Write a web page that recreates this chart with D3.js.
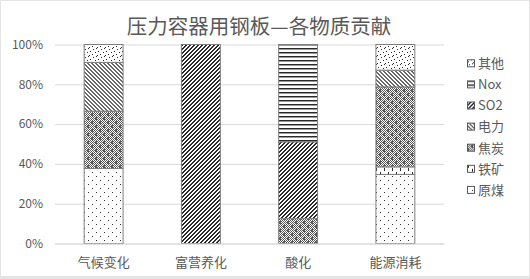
<!DOCTYPE html>
<html>
<head>
<meta charset="utf-8">
<script src="https://cdn.jsdelivr.net/npm/d3@7"></script>
<style>
  html, body { margin: 0; padding: 0; background: #e4e4e4; }
  svg { display: block; }
  text { font-family: "Noto Sans CJK SC", "Noto Sans", sans-serif; fill: #595959; }
</style>
</head>
<body>
<svg id="chart" width="530" height="279"></svg>
<script>
// Impact categories along the x axis
const categories = ["气候变化", "富营养化", "酸化", "能源消耗"];
// Stack order, bottom to top
const seriesNames = ["原煤", "铁矿", "焦炭", "电力", "SO2", "Nox", "其他"];
// Share of each contributor per category (%)
const coal    = [37.7, 0,   0,    34.7];
const ironOre = [0,    0,   0,    3.8];
const coke    = [28.8, 0,   12.5, 40.2];
const power   = [24.5, 0,   0,    8.4];
const so2     = [0,    100, 38.6, 0];
const nox     = [0,    0,   48.9, 0];
const other   = [9.0,  0,   0,    12.9];
const yTicks  = [0, 20, 40, 60, 80, 100];
const titleText = "压力容器用钢板—各物质贡献";

const seriesValues = [coal, ironOre, coke, power, so2, nox, other];
const rows = categories.map((c, i) => {
  const r = { category: c };
  seriesNames.forEach((s, k) => { r[s] = seriesValues[k][i]; });
  return r;
});

const svg = d3.select("#chart");

// frame
svg.append("rect").attr("x", 0).attr("y", 0).attr("width", 530).attr("height", 279).attr("fill", "#e4e4e4");
svg.append("rect").attr("x", 1).attr("y", 1).attr("width", 528).attr("height", 275).attr("fill", "#ffffff");

// 1px bitmap fills in the style of spreadsheet pattern fills
const defs = svg.append("defs");
const palette = { "1": "#2a2a2a", "2": "#9a9a9a", "3": "#6a6a6a", "4": "#585858" };
function bitmapPattern(id, bits) {
  const h = bits.length, w = bits[0].length;
  const p = defs.append("pattern")
    .attr("id", id).attr("patternUnits", "userSpaceOnUse")
    .attr("width", w).attr("height", h);
  p.append("rect").attr("width", w).attr("height", h).attr("fill", "#ffffff");
  bits.forEach((row, y) => {
    row.split("").forEach((ch, x) => {
      if (ch !== "0") {
        p.append("rect").attr("x", x).attr("y", y).attr("width", 1).attr("height", 1)
          .attr("fill", palette[ch]);
      }
    });
  });
  return "url(#" + id + ")";
}

const fills = {
  "原煤": bitmapPattern("p-coal", [
    "10000000",
    "00000000",
    "00000000",
    "00000000",
    "00001000",
    "00000000",
    "00000000",
    "00000000"]),
  "铁矿": bitmapPattern("p-ore", [
    "10000000",
    "10000000",
    "10000000",
    "00000000",
    "00001000",
    "00001000",
    "00001000",
    "00000000"]),
  "焦炭": bitmapPattern("p-coke", [
    "40404040",
    "04044404",
    "40444040",
    "04044404",
    "40404040",
    "44040404",
    "40404044",
    "44040404"]),
  "电力": bitmapPattern("p-power", [
    "3300",
    "0330",
    "0033",
    "3003"]),
  "SO2": bitmapPattern("p-so2", [
    "0011",
    "0110",
    "1100",
    "1001"]),
  "Nox": bitmapPattern("p-nox", [
    "1",
    "2",
    "0",
    "0"]),
  "其他": bitmapPattern("p-other", [
    "10000000",
    "00000100",
    "00000000",
    "00100000",
    "00000001",
    "00000000",
    "00001000",
    "01000000"])
};

const x = d3.scaleBand().domain(categories).range([55, 444]).paddingInner(0.6).paddingOuter(0.3);
const y = d3.scaleLinear().domain([0, 100]).range([243.5, 44.5]);

// gridlines + y labels
const yAxis = svg.append("g").attr("transform", "translate(55,0)")
  .call(d3.axisLeft(y).tickValues(yTicks).tickFormat(d => d + "%").tickSize(-389).tickPadding(12));
yAxis.select(".domain").remove();
yAxis.selectAll("line").attr("stroke", "#d9d9d9").attr("stroke-width", 1);
yAxis.selectAll("text").attr("font-size", 12).attr("fill", "#595959")
  .style("font-family", '"Noto Sans CJK SC", sans-serif');

// stacked bars
const stacked = d3.stack().keys(seriesNames)(rows);
const layers = svg.append("g").selectAll("g").data(stacked).join("g")
  .attr("fill", d => fills[d.key]);
layers.selectAll("rect").data(d => d.filter(s => s[1] - s[0] > 0)).join("rect")
  .attr("x", d => x(d.data.category))
  .attr("width", x.bandwidth())
  .attr("y", d => y(d[1]))
  .attr("height", d => y(d[0]) - y(d[1]))
  .attr("stroke", "#7f7f7f")
  .attr("stroke-width", 1);

// category labels
const xAxis = svg.append("g").attr("transform", "translate(0,243.5)")
  .call(d3.axisBottom(x).tickSize(0).tickPadding(14));
xAxis.select(".domain").attr("stroke", "#d9d9d9");
xAxis.selectAll("text").attr("font-size", 13).attr("fill", "#595959")
  .style("font-family", '"Noto Sans CJK SC", sans-serif');

// title
svg.append("text").attr("x", 259).attr("y", 33.5).attr("text-anchor", "middle")
  .attr("font-size", 20.5).text(titleText);

// legend, top of the stack listed first
const legendNames = seriesNames.slice().reverse();
const legend = svg.append("g").selectAll("g").data(legendNames).join("g")
  .attr("transform", (d, i) => "translate(0," + (63.3 + i * 21.1) + ")");
legend.append("rect").attr("x", 467.5).attr("y", -3.5).attr("width", 7).attr("height", 7)
  .attr("fill", d => fills[d]).attr("stroke", "#595959").attr("stroke-width", 1);
legend.append("text").attr("x", 478).attr("y", 4.8).attr("font-size", 13).text(d => d);
</script>
</body>
</html>
